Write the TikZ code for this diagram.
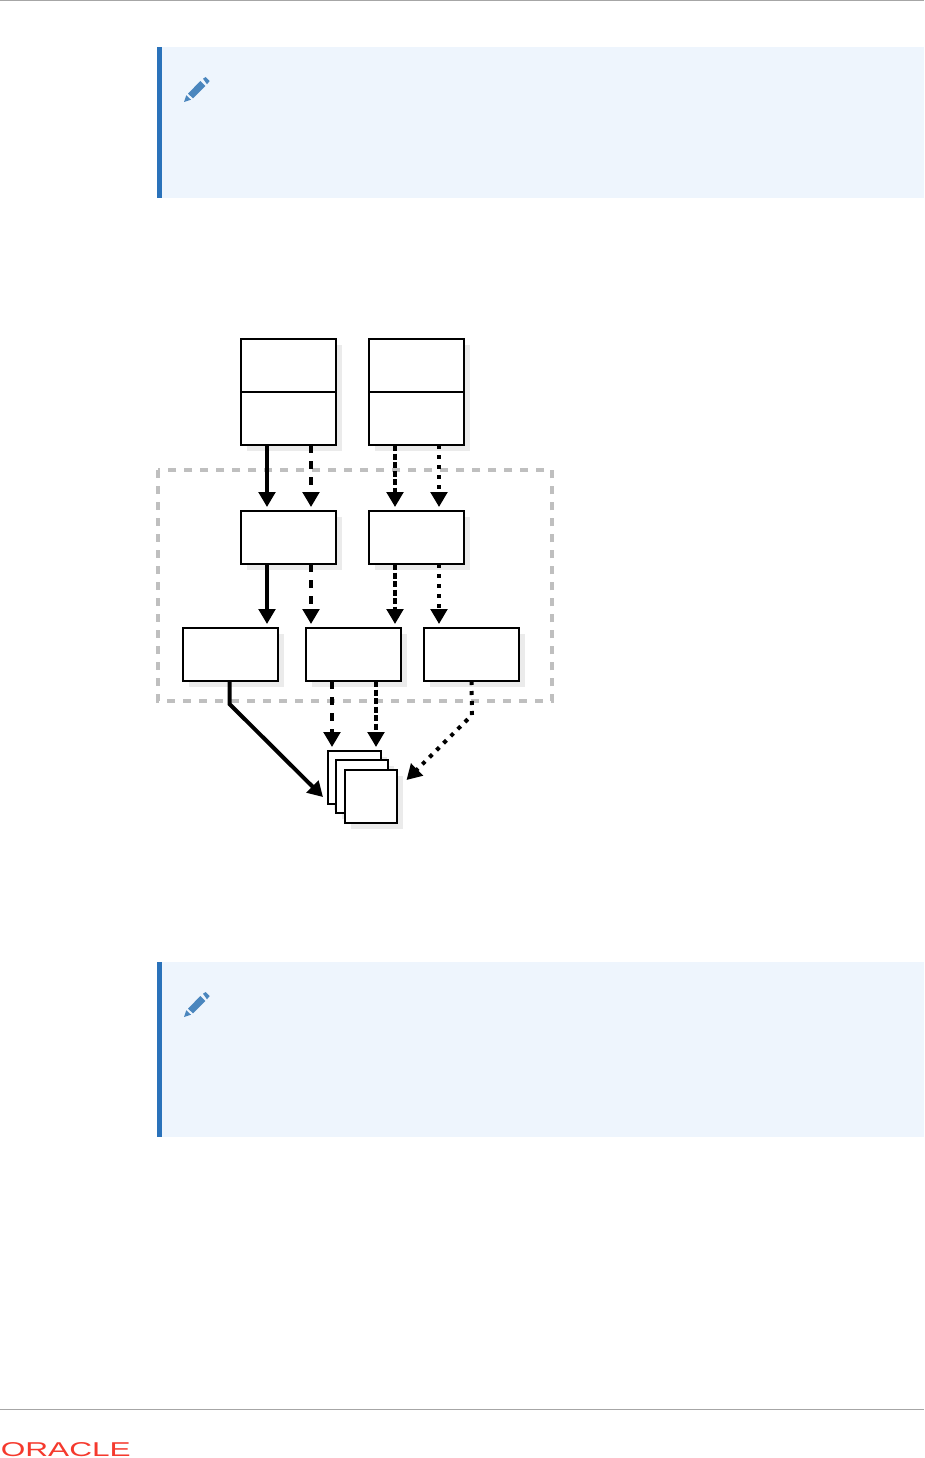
\documentclass[tikz,border=0pt]{standalone}
\usepackage{fontspec}
\setmainfont{Liberation Sans}
\usetikzlibrary{arrows.meta,shadows}
\definecolor{notebg}{HTML}{EEF5FD}
\definecolor{notebar}{HTML}{2A72BA}
\definecolor{pencilblue}{HTML}{4A86BE}
\definecolor{regiongray}{HTML}{BFBFBF}
\definecolor{shadowgray}{HTML}{EBEBEB}
\definecolor{rulegray}{HTML}{A6A6A6}
\definecolor{logored}{HTML}{F5392D}
\tikzset{
  box/.style={draw=black,fill=white,line width=2pt,inner sep=0pt,outer sep=0pt,
    drop shadow={shadow xshift=6pt,shadow yshift=-6pt,fill=shadowgray,opacity=1}},
  tallbox/.style={box,minimum width=95pt,minimum height=106pt},
  flatbox/.style={box,minimum width=95pt,minimum height=53pt},
  sheetbox/.style={box,minimum width=52.5pt,minimum height=53pt},
  link/.style={line width=4pt,-{Triangle[width=16.5pt,length=15pt]},shorten >=4pt},
  dashlink/.style={link,dash pattern=on 8pt off 8pt},
  densedash/.style={link,dash pattern=on 6pt off 2.5pt},
  dotlink/.style={link,dash pattern=on 4pt off 6pt},
  pencil/.pic={
    \fill[pencilblue] (0,0) -- (2.3,-6.7) -- (7,-2.3) -- cycle;
    \fill[pencilblue] (4,-8.3) -- (16.3,-21) -- (21.3,-16) -- (9,-3.7) -- cycle;
    \fill[pencilblue] (19,-23.3) -- (21.7,-25) -- (25.7,-21) -- (23,-17.7) -- cycle;
  }
}

\begin{document}
\begin{tikzpicture}[x=1pt,y=-1pt]
  \useasboundingbox[fill=white] (0,0) rectangle (924,1458);
  \draw[rulegray,line width=1pt] (0,0.5) -- (924,0.5);
  \draw[rulegray,line width=1pt] (0,1409.5) -- (924,1409.5);
  % note panels
  \fill[notebg] (157,47) rectangle (924,198);
  \fill[notebar] (157,47) rectangle (162,198);
  \pic at (184,102) {pencil};
  \fill[notebg] (157,962) rectangle (924,1137);
  \fill[notebar] (157,962) rectangle (162,1137);
  \pic at (184,1017) {pencil};
  % dashed region
  \draw[regiongray,line width=4pt,dash pattern=on 8pt off 8pt] (158,470) rectangle (552,701);
  % boxes
  \node[tallbox] (topa) at (288.5,392) {};
  \node[tallbox] (topb) at (416.5,392) {};
  \draw[line width=2pt] (topa.west) -- (topa.east);
  \draw[line width=2pt] (topb.west) -- (topb.east);
  \node[flatbox] (mida) at (288.5,537.5) {};
  \node[flatbox] (midb) at (416.5,537.5) {};
  \node[flatbox] (lowa) at (230.5,654.5) {};
  \node[flatbox] (lowb) at (353.5,654.5) {};
  \node[flatbox] (lowc) at (471.5,654.5) {};
  \node[sheetbox] (sheeta) at (354.25,777.5) {};
  \node[sheetbox] (sheetb) at (361.75,786.5) {};
  \node[sheetbox] (sheetc) at (371,796.5) {};
  \coordinate (benda) at (229.5,704);
  \coordinate (bendc) at (472,715);
  \coordinate (ina) at (323,797);
  \coordinate (inc) at (406.5,780);
  % top to middle
  \draw[link] ([xshift=-21.5pt]topa.south) -- ([xshift=-21.5pt]mida.north);
  \draw[dashlink] ([xshift=22.5pt]topa.south) -- ([xshift=22.5pt]mida.north);
  \draw[densedash] ([xshift=-21.5pt]topb.south) -- ([xshift=-21.5pt]midb.north);
  \draw[dotlink] ([xshift=22.5pt]topb.south) -- ([xshift=22.5pt]midb.north);
  % middle to low
  \draw[link] ([xshift=-21.5pt]mida.south) -- ([xshift=36.5pt]lowa.north);
  \draw[dashlink] ([xshift=22.5pt]mida.south) -- ([xshift=-42.5pt]lowb.north);
  \draw[densedash] ([xshift=-21.5pt]midb.south) -- ([xshift=41.5pt]lowb.north);
  \draw[dotlink] ([xshift=22.5pt]midb.south) -- ([xshift=-32.5pt]lowc.north);
  % low to sheets
  \draw[link,shorten >=0pt] ([xshift=-1pt]lowa.south) -- (benda) -- (ina);
  \draw[dashlink] ([xshift=-21.5pt]lowb.south) -- ([xshift=-22.25pt]sheeta.north);
  \draw[densedash] ([xshift=22.5pt]lowb.south) -- ([xshift=21.75pt]sheeta.north);
  \draw[dotlink,shorten >=0pt] (lowc.south) -- (bendc) -- (inc);
  % logo
  \node[logored,font=\fontsize{20}{20}\selectfont,anchor=base west,inner sep=0pt,xscale=1.58] (logo) at (0.5,1456.5) {ORACLE};
\end{tikzpicture}
\end{document}
